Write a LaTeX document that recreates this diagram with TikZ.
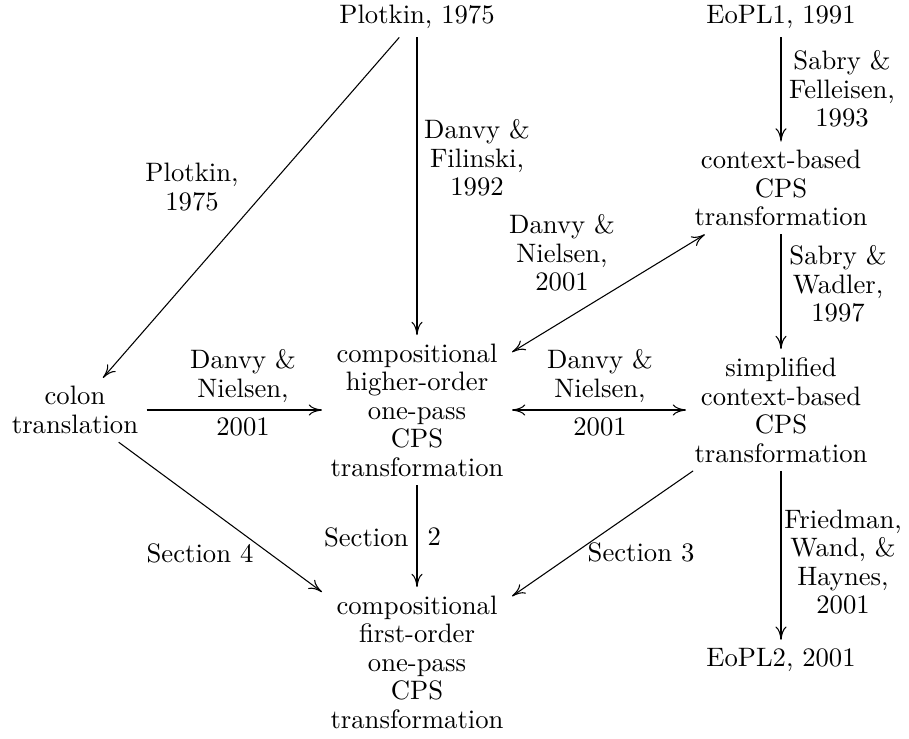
\documentclass[tikz,border=0pt]{standalone}
\usetikzlibrary{arrows.meta}
\begin{document}
\begin{tikzpicture}[x=0.375pt,y=-0.375pt,
  obj/.style={align=center,inner sep=3pt,font=\fontsize{10pt}{10.7pt}\selectfont},
  lbl/.style={align=center,inner sep=0pt,font=\fontsize{10pt}{10.7pt}\selectfont},
  tipx/.tip={To[length=5pt,width=4.2pt]},
  arr/.style={line width=0.4pt,-tipx},
  darr/.style={line width=0.4pt,tipx-tipx}]
\useasboundingbox (0,0) rectangle (909,738);
% objects
\node[obj] (plot)  at (417,17)  {Plotkin, 1975};
\node[obj] (eopla) at (781,17)  {EoPL1, 1991};
\node[obj] (ctx)   at (781,188) {context-based\\CPS\\transformation};
\node[obj] (colon) at (75,410)  {colon\\translation};
\node[obj] (ho)    at (417,410) {compositional\\higher-order\\one-pass\\CPS\\transformation};
\node[obj] (simp)  at (781,410) {simplified\\context-based\\CPS\\transformation};
\node[obj] (fo)    at (417,662) {compositional\\first-order\\one-pass\\CPS\\transformation};
\node[obj] (eoplb) at (781,660) {EoPL2, 2001};
% connectors
\draw[arr]  (plot) -- (colon);
\draw[arr]  (plot) -- (ho);
\draw[arr]  (eopla) -- (ctx);
\draw[arr]  (ctx) -- (simp);
\draw[darr] (ho) -- (ctx);
\draw[arr]  (colon) -- (ho);
\draw[darr] (ho) -- (simp);
\draw[arr]  (simp) -- (eoplb);
\draw[arr]  (ho) -- (fo);
\draw[arr]  (colon) -- (fo);
\draw[arr]  (simp) -- (fo);
% labels
\node[lbl] (lp)  at (192,187) {Plotkin,\\1975};
\node[lbl] (ldf) at (477,158) {Danvy \&\\Filinski,\\1992};
\node[lbl] (lsf) at (842,89)  {Sabry \&\\Felleisen,\\1993};
\node[lbl] (ldn) at (562,253) {Danvy \&\\Nielsen,\\2001};
\node[lbl] (lsw) at (838,284) {Sabry \&\\Wadler,\\1997};
\node[lbl] (lla) at (243,376) {Danvy \&\\Nielsen,};
\node[lbl] (llb) at (243,427) {2001};
\node[lbl] (lra) at (600,376) {Danvy \&\\Nielsen,};
\node[lbl] (lrb) at (600,427) {2001};
\node[lbl] (lfw) at (843,562) {Friedman,\\Wand, \&\\Haynes,\\2001};
\node[lbl,anchor=east] (ls2a) at (409,537) {Section};
\node[lbl,anchor=west] (ls2b) at (427,537) {2};
\node[lbl] (ls4) at (200,553) {Section 4};
\node[lbl] (ls3) at (641,552) {Section 3};
\end{tikzpicture}
\end{document}
